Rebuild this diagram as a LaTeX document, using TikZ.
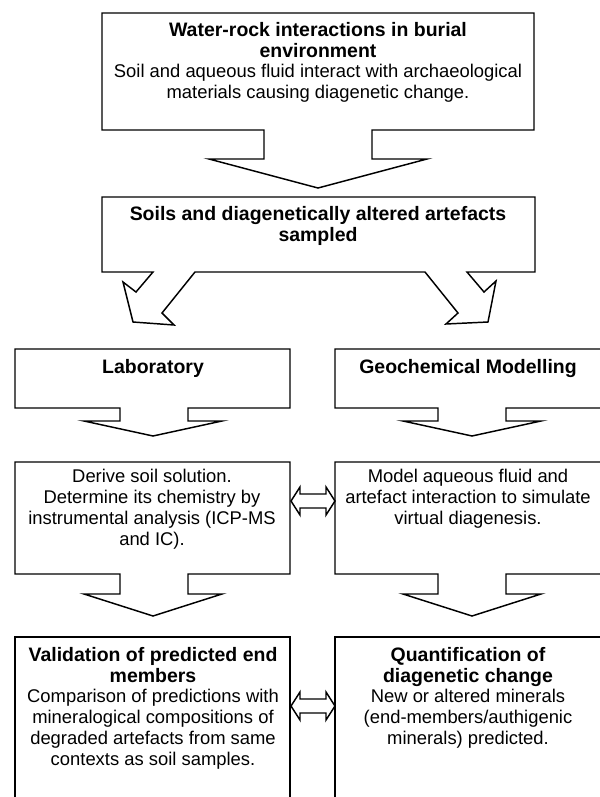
\documentclass[tikz,border=0pt]{standalone}
\usepackage{fontspec}
\setmainfont{Liberation Sans}
\begin{document}
\begin{tikzpicture}[x=0.75pt,y=-0.75pt,
  outl/.style={draw=black, line width=1.1pt, line join=miter},
  ttl/.style={anchor=north, align=center, inner sep=0pt, font=\fontsize{14.6}{15.75}\selectfont\bfseries},
  bdy/.style={anchor=north, align=center, inner sep=0pt, font=\fontsize{13.8}{15.75}\selectfont}]
\useasboundingbox (0,0) rectangle (600,797);
\fill[white] (0,0) rectangle (600,797);
\clip (0,0) rectangle (600,797);

% top callout
\draw[outl] (102,13) -- (534,13) -- (534,130) -- (372,130) -- (372,159) -- (427,159)
  -- (318,188) -- (209,159) -- (264,159) -- (264,130) -- (102,130) -- cycle;
% second box with two diagonal arrows
\draw[outl] (102,197) -- (535,197) -- (535,272) -- (467,272) -- (484,292) -- (496,281)
  -- (488,322) -- (446,324) -- (458,313) -- (425,272) -- (195,272) -- (162,313)
  -- (174,325) -- (133,322) -- (123,282) -- (136,292) -- (153,272) -- (102,272) -- cycle;
% Laboratory / Geochemical callouts
\draw[outl] (15,349) -- (290,349) -- (290,408) -- (188,408) -- (188,421) -- (222,421)
  -- (153,436) -- (84,421) -- (120,421) -- (120,408) -- (15,408) -- cycle;
\draw[outl] (335,349) -- (612,349) -- (612,408) -- (506,408) -- (506,421) -- (541,421)
  -- (472,436) -- (403,421) -- (438,421) -- (438,408) -- (335,408) -- cycle;
% Derive / Model callouts
\draw[outl] (15,462) -- (290,462) -- (290,574) -- (188,574) -- (188,594) -- (222,594)
  -- (153,616) -- (84,594) -- (120,594) -- (120,574) -- (15,574) -- cycle;
\draw[outl] (335,462) -- (612,462) -- (612,574) -- (506,574) -- (506,594) -- (541,594)
  -- (472,616) -- (403,594) -- (438,594) -- (438,574) -- (335,574) -- cycle;
% bottom open boxes
\draw[outl] (15,805) -- (15,637) -- (290,637) -- (290,805);
\draw[outl] (335,805) -- (335,637) -- (612,637);
% double arrows
\draw[outl] (291,501) -- (300,487) -- (300,494) -- (326,494) -- (326,487) -- (335,501)
  -- (326,515) -- (326,508) -- (300,508) -- (300,515) -- cycle;
\draw[outl] (291,706) -- (300,692) -- (300,699) -- (326,699) -- (326,692) -- (335,706)
  -- (326,720) -- (326,713) -- (300,713) -- (300,720) -- cycle;

% texts
\node[ttl] (t1) at (318,22) {Water-rock interactions in burial\\environment};
\node[bdy] (b1) at (318,64) {Soil and aqueous fluid interact with archaeological\\materials causing diagenetic change.};
\node[ttl] (t2) at (318,206) {Soils and diagenetically altered artefacts\\sampled};
\node[ttl] (t3) at (153,359) {Laboratory};
\node[ttl] (t4) at (468,359) {Geochemical Modelling};
\node[bdy] (b5) at (152,469) {Derive soil solution.\\Determine its chemistry by\\instrumental analysis (ICP-MS\\and IC).};
\node[bdy] (b6) at (468,469) {Model aqueous fluid and\\artefact interaction to simulate\\virtual diagenesis.};
\node[ttl] (t7) at (153,647) {Validation of predicted end\\members};
\node[bdy] (b7) at (153,689) {Comparison of predictions with\\mineralogical compositions of\\degraded artefacts from same\\contexts as soil samples.};
\node[ttl] (t8) at (468,647) {Quantification of\\diagenetic change};
\node[bdy] (b8) at (468,689) {New or altered minerals\\(end-members/authigenic\\minerals) predicted.};
\end{tikzpicture}
\end{document}
